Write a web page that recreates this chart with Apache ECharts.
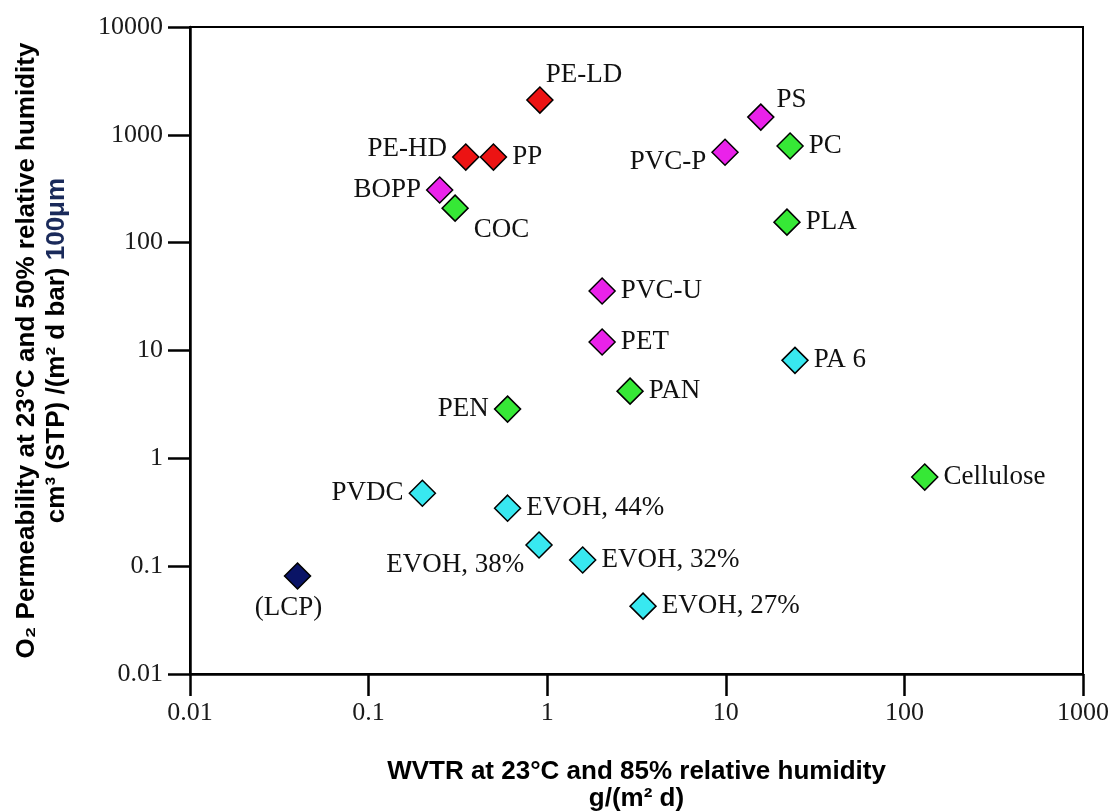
<!DOCTYPE html>
<html><head><meta charset="utf-8">
<script src="https://cdn.jsdelivr.net/npm/echarts@6/dist/echarts.min.js"></script>
<style>html,body{margin:0;padding:0;background:#fff}#c{width:1115px;height:811px}</style>
</head><body><div id="c"></div>
<script>
// ---- data ----
var materials = ['PE-LD','PE-HD','PP','BOPP','COC','PS','PVC-P','PC','PLA','PVC-U','PET','PA 6','PAN','PEN','Cellulose','PVDC','EVOH, 44%','EVOH, 38%','EVOH, 32%','EVOH, 27%','(LCP)'];
var wvtr = [0.91, 0.35, 0.50, 0.25, 0.305, 15.7, 9.9, 22.9, 22, 2.03, 2.03, 24.4, 2.91, 0.60, 130, 0.20, 0.60, 0.90, 1.58, 3.44, 0.040];
var o2perm = [2100, 622, 622, 308, 209, 1460, 690, 787, 155, 35.6, 12, 8.1, 4.2, 2.86, 0.67, 0.475, 0.345, 0.157, 0.114, 0.0426, 0.081];
var group = ['red','red','red','magenta','green','magenta','magenta','green','green','magenta','magenta','cyan','green','green','green','cyan','cyan','cyan','cyan','cyan','navy'];
var tickLabels = ['0.01','0.1','1','10','100','1000','10000'];

// ---- styles ----
var colors = {red:'#ec1313', magenta:'#ea22ea', green:'#36e836', cyan:'#38e8f0', navy:'#0a1466'};
var labelPlace = {
  'PE-LD':['right',[-13,-25]], 'PE-HD':['left',[0,-8]], 'PP':['right',[0,0]], 'BOPP':['left',[0,0]],
  'COC':['right',[0,22]], 'PS':['right',[-3,-17]], 'PVC-P':['left',[0,10]], 'PC':['right',[0,0]],
  'PLA':['right',[0,0]], 'PVC-U':['right',[0,0]], 'PET':['right',[0,0]], 'PA 6':['right',[0,0]],
  'PAN':['right',[0,0]], 'PEN':['left',[0,0]], 'Cellulose':['right',[0,0]], 'PVDC':['left',[0,0]],
  'EVOH, 44%':['right',[0,0]], 'EVOH, 38%':['left',[4,20]], 'EVOH, 32%':['right',[0,0]],
  'EVOH, 27%':['right',[0,0]], '(LCP)':['bottom',[-9,0]]
};

var data = materials.map(function(n,i){
  var lp = labelPlace[n];
  return {
    name:n, value:[wvtr[i], o2perm[i]],
    itemStyle:{color:colors[group[i]], borderColor:'#000', borderWidth:1.5, opacity:1},
    label:{show:true, position:lp[0], offset:lp[1], formatter:n}
  };
});

var serif = '"Liberation Serif", "DejaVu Serif", serif';
var sans = '"Liberation Sans", Arial, sans-serif';
function fmt(v){ var s = String(+v.toPrecision(6)); return tickLabels.indexOf(s) >= 0 ? s : ''; }

var chart = echarts.init(document.getElementById('c'));
chart.setOption({
  animation:false,
  grid:{left:190, right:32, top:27, bottom:137, show:true, borderColor:'#000', borderWidth:2, outerBoundsMode:'none', containLabel:false},
  xAxis:{
    type:'log', logBase:10, min:0.01, max:1000,
    axisLine:{show:true, lineStyle:{color:'#000', width:2.5}},
    axisTick:{show:true, inside:false, length:22, lineStyle:{color:'#000', width:2.5}},
    splitLine:{show:false},
    minorTick:{show:false},
    axisLabel:{formatter:fmt, color:'#1a1a1a', fontFamily:serif, fontSize:26, margin:26},
    name:'WVTR at 23°C and 85% relative humidity\ng/(m² d)',
    nameLocation:'middle', nameGap:84,
    nameTextStyle:{fontFamily:sans, fontWeight:'bold', fontSize:26, color:'#000', lineHeight:27}
  },
  yAxis:{
    type:'log', logBase:10, min:0.01, max:10000,
    axisLine:{show:true, lineStyle:{color:'#000', width:2.5}},
    axisTick:{show:true, inside:false, length:22, lineStyle:{color:'#000', width:2.5}},
    splitLine:{show:false},
    axisLabel:{formatter:fmt, color:'#1a1a1a', fontFamily:serif, fontSize:26, margin:27},
    name:'{a|O₂ Permeability at 23°C and 50% relative humidity}\n{a|cm³ (STP) /(m² d bar) }{b|100μm}',
    nameLocation:'middle', nameRotate:90, nameGap:118,
    nameTextStyle:{fontFamily:sans, fontWeight:'bold', fontSize:26, color:'#000', lineHeight:30,
      rich:{a:{fontFamily:sans, fontWeight:'bold', fontSize:26, color:'#000', lineHeight:30},
            b:{fontFamily:sans, fontWeight:'bold', fontSize:26, color:'#1a2a5a', lineHeight:30}}}
  },
  series:[{
    type:'scatter', symbol:'diamond', symbolSize:26,
    data:data,
    itemStyle:{opacity:1},
    label:{show:true, color:'#111', fontFamily:serif, fontSize:27, distance:5},
    emphasis:{disabled:true}
  }]
});
</script></body></html>
